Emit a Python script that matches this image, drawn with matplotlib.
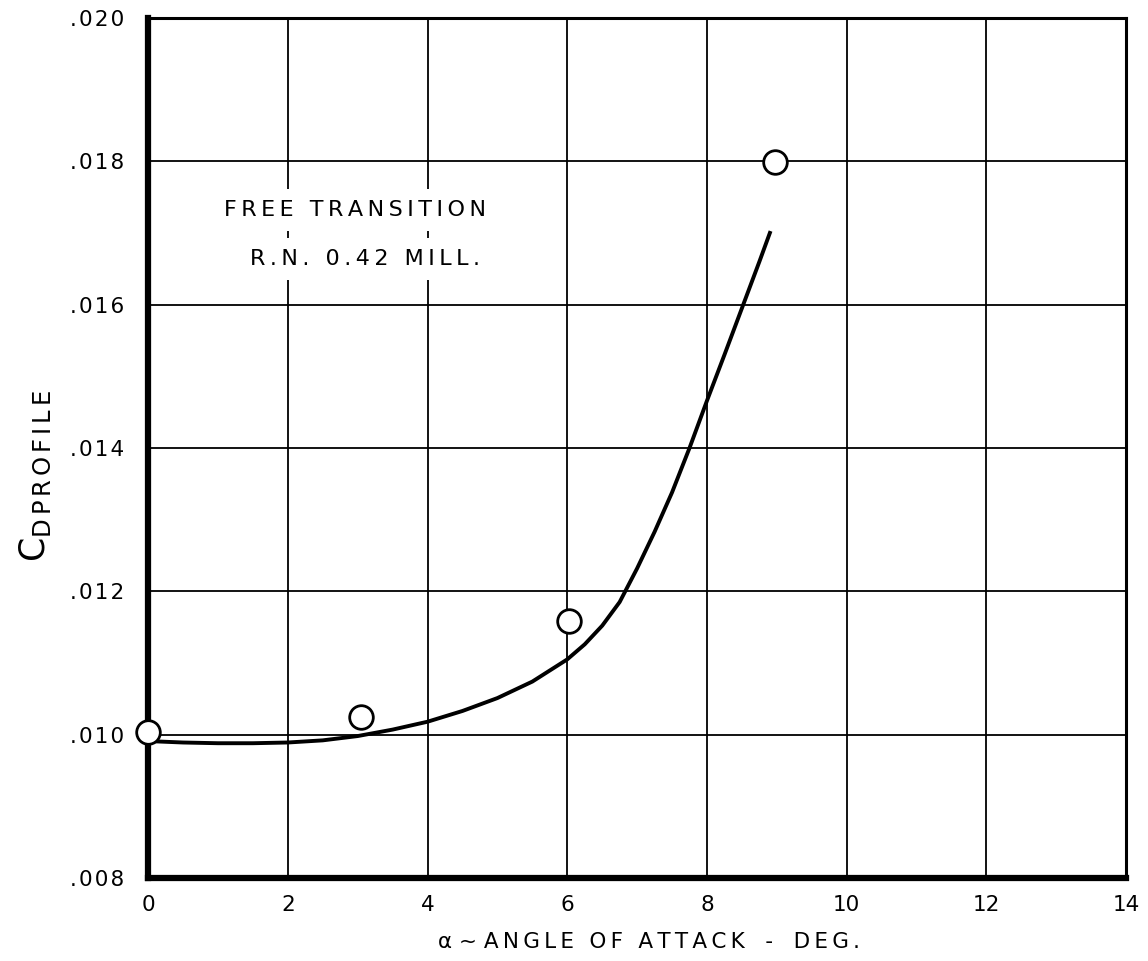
import matplotlib
matplotlib.use("Agg")
import matplotlib.pyplot as plt
from matplotlib.ticker import FuncFormatter

# test points, profile drag vs angle of attack
alpha_pts = [0.0, 3.05, 6.03, 8.97]
cd_pts = [0.01004, 0.01024, 0.01158, 0.01799]

# faired curve through the test data
alpha_fair = [0.0, 0.5, 1.0, 1.5, 2.0, 2.5, 3.0, 3.5, 4.0, 4.5, 5.0, 5.5,
              6.0, 6.25, 6.5, 6.75, 7.0, 7.25, 7.5, 7.75, 8.0, 8.25, 8.5, 8.75, 8.9]
cd_fair = [0.00991, 0.00989, 0.00988, 0.00988, 0.00989, 0.00992, 0.00998, 0.01007,
           0.01018, 0.01033, 0.01051, 0.01074, 0.01105, 0.01126, 0.01152, 0.01185,
           0.01232, 0.01283, 0.01338, 0.01400, 0.01466, 0.01530, 0.01595, 0.01660, 0.01700]

x_ticks = [0, 2, 4, 6, 8, 10, 12, 14]
y_ticks = [0.008, 0.010, 0.012, 0.014, 0.016, 0.018, 0.020]

THIN = "\u2009"
HAIR = "\u200a"


def spaced(s, gap=THIN):
    # stencil-style lettering: open up the letter spacing a bit
    return gap.join(s)


fig = plt.figure(figsize=(11.48, 9.61), dpi=100)
ax = fig.add_axes([0.129, 0.0864, 0.852, 0.895])

ax.set_xlim(0, 14)
ax.set_ylim(0.008, 0.020)
ax.set_xticks(x_ticks)
ax.set_yticks(y_ticks)
ax.yaxis.set_major_formatter(FuncFormatter(lambda v, p: spaced(("%.3f" % v)[1:], HAIR)))
ax.tick_params(length=0, labelsize=15.5)
ax.tick_params(axis="x", pad=12)
ax.tick_params(axis="y", pad=17)
ax.grid(True, color="black", linewidth=1.3)
ax.set_axisbelow(True)

for side in ["left", "bottom"]:
    ax.spines[side].set_linewidth(4.5)
for side in ["top", "right"]:
    ax.spines[side].set_linewidth(2.2)

ax.plot(alpha_fair, cd_fair, color="black", linewidth=2.8, zorder=3)
ax.plot(alpha_pts, cd_pts, linestyle="none", marker="o", markersize=17,
        markerfacecolor="white", markeredgecolor="black", markeredgewidth=2.0,
        zorder=4, clip_on=False)

ax.text(2.96, 0.01732, spaced("FREE TRANSITION"), fontsize=16, ha="center", va="center",
        bbox=dict(facecolor="white", edgecolor="none", pad=8), zorder=5)
ax.text(3.10, 0.01664, spaced("R.N. 0.42 MILL."), fontsize=16, ha="center", va="center",
        bbox=dict(facecolor="white", edgecolor="none", pad=8), zorder=5)

ax.set_xlabel("α ~ " + spaced("ANGLE OF ATTACK") + "   -   " + spaced("DEG."),
              fontsize=15.5)
ax.xaxis.set_label_coords(0.512, -0.063)
ax.set_ylabel(r"C$_{\mathregular{D\,P\,R\,O\,F\,I\,L\,E}}$", fontsize=25)
ax.yaxis.set_label_coords(-0.097, 0.468)

fig.savefig("out.png", dpi=100, facecolor="white")
